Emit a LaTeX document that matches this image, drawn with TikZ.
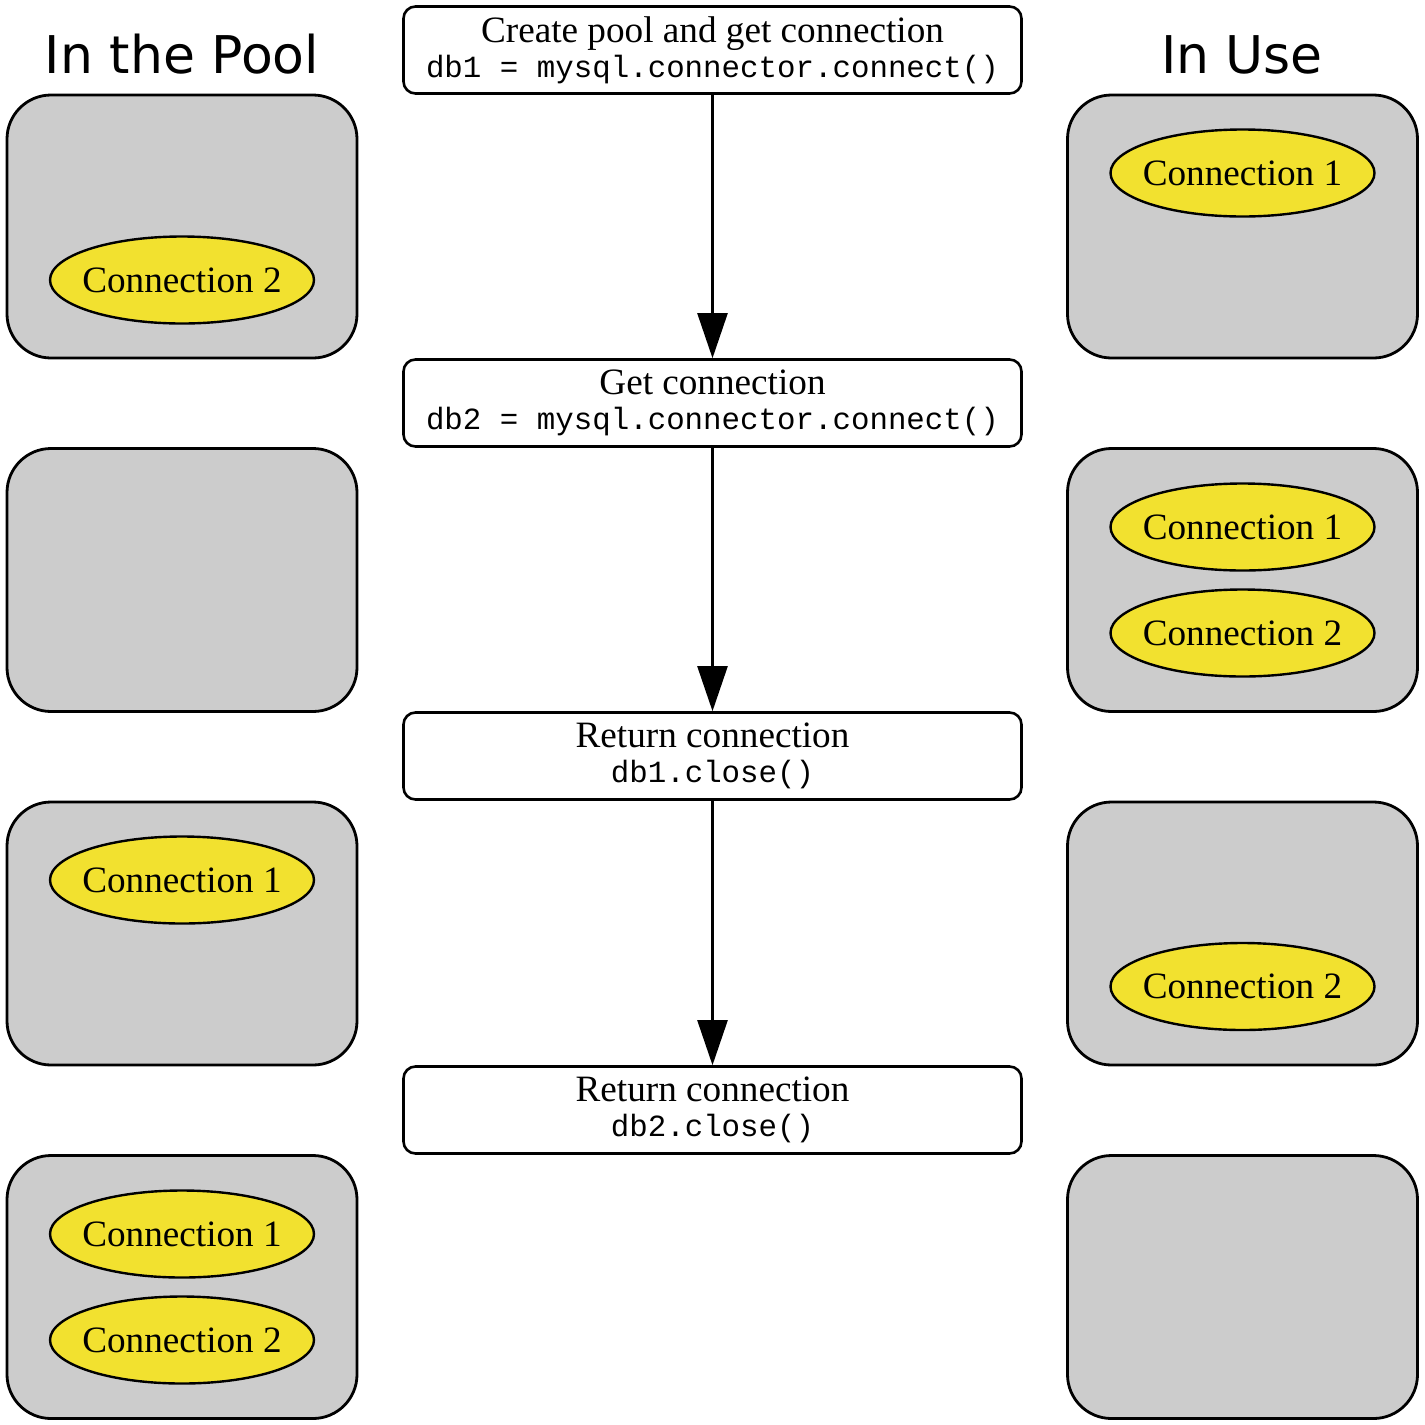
\documentclass[tikz,border=0pt]{standalone}
\usepackage{fontspec}
\setmainfont{Liberation Serif}
\setmonofont{Liberation Mono}
\newfontfamily\titlefont{DejaVu Sans}
\usetikzlibrary{shapes.geometric,arrows.meta}
\definecolor{poolgray}{HTML}{CCCCCC}
\definecolor{connyellow}{HTML}{F2E12F}
\begin{document}
\begin{tikzpicture}[x=0.5pt,y=-0.5pt,
  poolbox/.style={draw=black,line width=1.4pt,fill=poolgray,rounded corners=22pt,minimum width=175pt,minimum height=131.5pt,inner sep=0pt},
  stepbox/.style={draw=black,line width=1.3pt,fill=white,rounded corners=6pt,minimum width=309pt,minimum height=43.5pt,inner sep=0pt,align=center,font=\fontsize{18.6}{17.5}\selectfont},
  conn/.style={ellipse,draw=black,line width=1.2pt,fill=connyellow,minimum width=132pt,minimum height=43.5pt,inner xsep=-3.5pt,inner ysep=0pt,font=\fontsize{18.6}{20}\selectfont},
  title/.style={font=\titlefont\fontsize{26}{30}\selectfont,anchor=base},
  flow/.style={draw=black,line width=1.2pt,-{Triangle[width=15pt,length=22.5pt]}}
]
\useasboundingbox (0,0) rectangle (1425,1425);
% titles
\node[title] (tpool) at (182,73) {In the Pool};
\node[title] (tuse) at (1242,73) {In Use};
% pool boxes (left)
\node[poolbox] (p1) at (182,226.5) {};
\node[poolbox] (p2) at (182,580) {};
\node[poolbox] (p3) at (182,933.5) {};
\node[poolbox] (p4) at (182,1287) {};
% in-use boxes (right)
\node[poolbox] (u1) at (1242.5,226.5) {};
\node[poolbox] (u2) at (1242.5,580) {};
\node[poolbox] (u3) at (1242.5,933.5) {};
\node[poolbox] (u4) at (1242.5,1287) {};
% connections
\node[conn] (p1c2) at (182,280) {Connection 2};
\node[conn] (p3c1) at (182,880) {Connection 1};
\node[conn] (p4c1) at (182,1234) {Connection 1};
\node[conn] (p4c2) at (182,1340) {Connection 2};
\node[conn] (u1c1) at (1242.5,173) {Connection 1};
\node[conn] (u2c1) at (1242.5,527) {Connection 1};
\node[conn] (u2c2) at (1242.5,633) {Connection 2};
\node[conn] (u3c2) at (1242.5,986.5) {Connection 2};
% step boxes
\node[stepbox] (s1) at (712.5,50) {Create pool and get connection\\{\fontsize{15.4}{17}\selectfont\ttfamily db1 = mysql.connector.connect()}};
\node[stepbox] (s2) at (712.5,403) {Get connection\\{\fontsize{15.4}{17}\selectfont\ttfamily db2 = mysql.connector.connect()}};
\node[stepbox] (s3) at (712.5,756) {Return connection\\{\fontsize{15.4}{17}\selectfont\ttfamily db1.close()}};
\node[stepbox] (s4) at (712.5,1110) {Return connection\\{\fontsize{15.4}{17}\selectfont\ttfamily db2.close()}};
% arrows
\draw[flow] (s1) -- (s2);
\draw[flow] (s2) -- (s3);
\draw[flow] (s3) -- (s4);
\end{tikzpicture}
\end{document}
